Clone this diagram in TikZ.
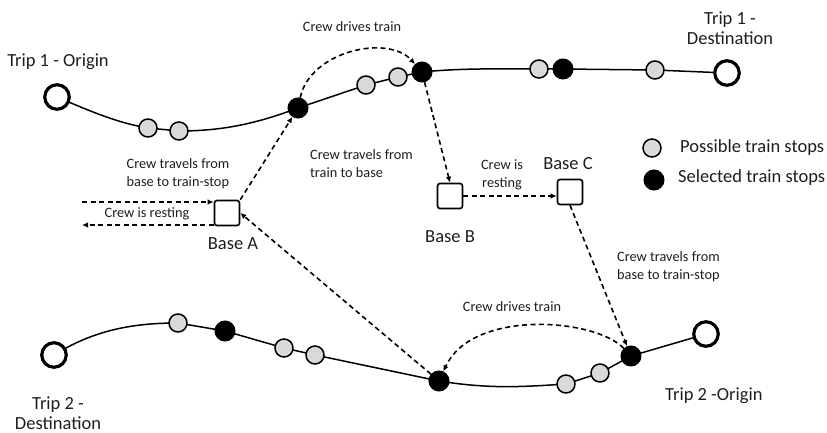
\documentclass[tikz,border=0pt]{standalone}
\usepackage{fontspec}
\setmainfont{Carlito}
\usetikzlibrary{arrows.meta,backgrounds}
\definecolor{txt}{HTML}{1E1E1E}
\definecolor{stopgray}{HTML}{D9D9D9}
\tikzset{
  bigstop/.style={circle,draw,line width=3.2pt,fill=white,minimum size=24.5pt,inner sep=0pt},
  posstop/.style={circle,draw,line width=1.5pt,fill=stopgray,minimum size=18pt,inner sep=0pt},
  selstop/.style={circle,draw,line width=1.5pt,fill=black,minimum size=19.5pt,inner sep=0pt},
  basebox/.style={draw,line width=1.6pt,rounded corners=2.5pt,minimum size=25pt,inner sep=0pt,fill=white},
  crewpath/.style={line width=1.6pt,dash pattern=on 5pt off 3.5pt,-{Latex[length=6pt,width=5.5pt]}},
  tripline/.style={line width=1.5pt},
  biglabel/.style={text=txt,font=\fontsize{18.5}{20.5}\selectfont,inner sep=0pt},
  smalllabel/.style={text=txt,font=\fontsize{14.3}{18}\selectfont,inner sep=0pt}
}
\begin{document}
\begin{tikzpicture}[x=1pt,y=-1pt]
\useasboundingbox (0,0) rectangle (827,433);
% Trip 1 stops
\node[bigstop] (t1o) at (57,97) {};
\node[posstop] (t1g1) at (148,128) {};
\node[posstop] (t1g2) at (179,131) {};
\node[selstop] (t1b1) at (298,108) {};
\node[posstop] (t1g3) at (366,85) {};
\node[posstop] (t1g4) at (398,77) {};
\node[selstop] (t1b2) at (422,72) {};
\node[posstop] (t1g5) at (539,69) {};
\node[selstop] (t1b3) at (563,69) {};
\node[posstop] (t1g6) at (655,70) {};
\node[bigstop] (t1d) at (727,73) {};
% Trip 2 stops
\node[bigstop] (t2d) at (54,355) {};
\node[posstop] (t2g1) at (178,323) {};
\node[selstop] (t2b1) at (225,331) {};
\node[posstop] (t2g2) at (284,348) {};
\node[posstop] (t2g3) at (315,355) {};
\node[selstop] (t2b2) at (439,381) {};
\node[posstop] (t2g4) at (566,384) {};
\node[posstop] (t2g5) at (600,373) {};
\node[selstop] (t2b3) at (631,356) {};
\node[bigstop] (t2o) at (706,334) {};
% trip lines
\begin{scope}[on background layer]
\draw[tripline] (t1o.center) .. controls +(35,15) and +(-30,-5) .. (t1g1.center) -- (t1g2.center)
  .. controls +(45,0) and +(-40,15) .. (t1b1.center) -- (t1g3.center) -- (t1g4.center) -- (t1b2.center)
  .. controls +(40,-4) and +(-40,0) .. (t1g5.center) -- (t1b3.center) -- (t1g6.center) -- (t1d.center);
\draw[tripline] (t2d.center) .. controls +(40,-25) and +(-45,0) .. (t2g1.center) -- (t2b1.center)
  -- (t2g2.center) -- (t2g3.center) -- (t2b2.center)
  .. controls +(50,8) and +(-45,3) .. (t2g4.center) -- (t2g5.center) -- (t2b3.center) -- (t2o.center);
\end{scope}
% bases
\node[basebox] (bA) at (227,213) {};
\node[basebox] (bB) at (450,196) {};
\node[basebox] (bC) at (570,192) {};
\coordinate (rin) at (82,202);
\coordinate (rout) at (82,225);
% legend
\node[posstop] (lg) at (652,148) {};
\node[selstop] (lb) at (654,180) {};
% crew movements
\draw[crewpath] (bA.north east) -- (t1b1);
\draw[crewpath] (t1b1) .. controls +(12,-57) and +(-34,-38) .. (t1b2);
\draw[crewpath] (t1b2) -- (bB.north);
\draw[crewpath] (bB.east) -- (bB.east -| bC.west);
\draw[crewpath] (bC.south) -- (t2b3);
\draw[crewpath] (t2b3) .. controls +(-36,-38) and +(33,-72) .. (t2b2);
\draw[crewpath] (t2b2) -- (bA.east);
\draw[crewpath] (rin) -- (rin -| bA.west);
\draw[crewpath] (rout -| bA.west) -- (rout);
% labels
\node[biglabel] (l1) at (58,62) {Trip 1 - Origin};
\node[biglabel,align=center] (l2) at (730,28) {Trip 1 -\\Destination};
\node[smalllabel] (l3) at (352,27) {Crew drives train};
\node[smalllabel,align=left,anchor=west] (l4) at (310,164) {Crew travels from\\train to base};
\node[smalllabel,align=left] (l5) at (178,174) {Crew travels from\\base to train-stop};
\node[smalllabel] (l6) at (147,214) {Crew is resting};
\node[biglabel] (l7) at (233,244) {Base A};
\node[biglabel] (l8) at (450,237) {Base B};
\node[biglabel] (l9) at (568,164) {Base C};
\node[smalllabel,align=center] (l10) at (502,175) {Crew is\\resting};
\node[smalllabel,align=left,anchor=west] (l11) at (617,267) {Crew travels from\\base to train-stop};
\node[smalllabel] (l12) at (512,307) {Crew drives train};
\node[biglabel,align=center] (l13) at (58,413) {Trip 2 -\\Destination};
\node[biglabel,anchor=west] (l14) at (665,396) {Trip 2 -Origin};
\node[biglabel,anchor=west] (l15) at (680,148) {Possible train stops};
\node[biglabel,anchor=west] (l16) at (678,178) {Selected train stops};
\end{tikzpicture}
\end{document}
